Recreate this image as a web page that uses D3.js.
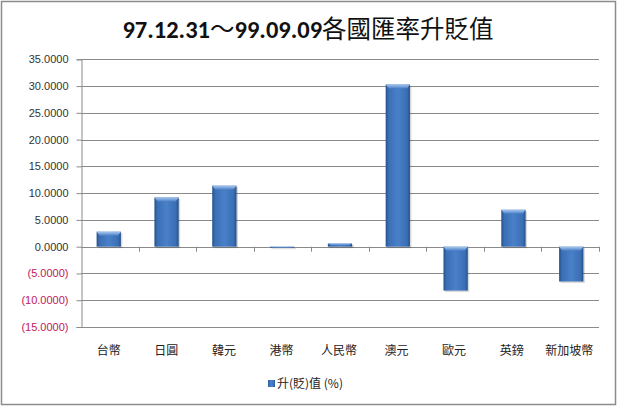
<!DOCTYPE html>
<html><head><meta charset="utf-8">
<script src="https://cdn.jsdelivr.net/npm/d3@7"></script>
<style>
html,body{margin:0;padding:0;background:#fff;}
svg{display:block;}
</style></head>
<body>
<script>
const categories = ["台幣","日圓","韓元","港幣","人民幣","澳元","歐元","英鎊","新加坡幣"];
const values = [2.8, 9.2, 11.4, -0.15, 0.6, 30.3, -8.2, 6.9, -6.5];
const yTicks = [35,30,25,20,15,10,5,0,-5,-10,-15];
const titleText = "97.12.31～99.09.09各國匯率升貶值";
const legendText = "升(貶)值  (%)";

(function(){
const W = 617, H = 406;
const svg = d3.select("body").append("svg").attr("width", W).attr("height", H);
const defs = svg.append("defs");
const g1 = defs.append("linearGradient").attr("id","barg").attr("x1","0").attr("x2","1").attr("y1","0").attr("y2","0");
g1.append("stop").attr("offset","0").attr("stop-color","#24508a");
g1.append("stop").attr("offset","0.12").attr("stop-color","#3a6fb5");
g1.append("stop").attr("offset","0.5").attr("stop-color","#4a80c8");
g1.append("stop").attr("offset","0.88").attr("stop-color","#3a6fb5");
g1.append("stop").attr("offset","1").attr("stop-color","#24508a");
const g2 = defs.append("linearGradient").attr("id","bevel").attr("x1","0").attr("x2","0").attr("y1","0").attr("y2","1");
g2.append("stop").attr("offset","0").attr("stop-color","#a9c8ee");
g2.append("stop").attr("offset","1").attr("stop-color","#4a80c8");

svg.append("rect").attr("x",1.5).attr("y",1.5).attr("width",W-3).attr("height",H-3)
  .attr("fill","#fff").attr("stroke","#8c8c8c").attr("stroke-width",1.5);

const pl = 81, pr = 599, pt = 59.3, pb = 327;
const y = d3.scaleLinear().domain([-15,35]).range([pb, pt]);
const x = d3.scaleBand().domain(categories).range([pl, pr]).paddingInner(0.58).paddingOuter(0.27);
const xb = d3.scaleBand().domain(categories).range([pl, pr]);

// gridlines
svg.append("g").selectAll("line").data(yTicks).join("line")
  .attr("x1", pl).attr("x2", pr)
  .attr("y1", d => Math.round(y(d))+0.5).attr("y2", d => Math.round(y(d))+0.5)
  .attr("stroke", "#8a8a8a").attr("stroke-width", 1);

// y axis
const yAxis = d3.axisLeft(y).tickValues(yTicks).tickSize(5).tickPadding(8)
  .tickFormat(d => d < 0 ? "(" + d3.format(".4f")(-d) + ")" : d3.format(".4f")(d));
const ya = svg.append("g").attr("transform", `translate(${pl+0.5},0)`).call(yAxis);
ya.select(".domain").attr("stroke","#8a8a8a");
ya.selectAll(".tick line").attr("stroke","#8a8a8a");
ya.selectAll(".tick text").attr("font-family","'Liberation Sans', Arial, sans-serif").attr("font-size","11px")
  .attr("fill", d => d < 0 ? "#c0185a" : "#333");

// x ticks on zero line
const bounds = categories.map(c => xb(c) + xb.bandwidth());
svg.append("g").selectAll("line").data(bounds).join("line")
  .attr("x1", d => Math.round(d)+0.5).attr("x2", d => Math.round(d)+0.5)
  .attr("y1", y(0)).attr("y2", y(0)+5).attr("stroke","#8a8a8a");

// bars
const bars = svg.append("g");
categories.forEach((c,i) => {
  const v = values[i];
  const bx = x(c), bw = x.bandwidth();
  const y0 = y(Math.max(0,v)), y1 = y(Math.min(0,v));
  const h = Math.max(1, y1 - y0);
  bars.append("rect").attr("x", bx+1.5).attr("y", y0+1.5).attr("width", bw).attr("height", h)
    .attr("fill", "#000").attr("opacity", 0.15);
  bars.append("rect").attr("x", bx).attr("y", y0).attr("width", bw).attr("height", h)
    .attr("fill", "url(#barg)");
  const bev = Math.min(4, h/2);
  bars.append("path")
    .attr("d", `M${bx},${y0} L${bx+bw},${y0} L${bx+bw-3},${y0+bev} L${bx+3},${y0+bev} Z`)
    .attr("fill", "url(#bevel)");
});

// x labels
svg.append("g").selectAll("text").data(categories).join("text")
  .attr("x", d => xb(d) + xb.bandwidth()/2 - 1).attr("y", 355)
  .attr("text-anchor","middle").attr("font-family","'Noto Sans CJK TC', sans-serif")
  .attr("font-size","12px").attr("fill","#222").text(d => d);

// title
svg.append("text").attr("x", 308).attr("y", 38).attr("text-anchor","middle")
  .attr("font-family","'Noto Sans CJK TC', sans-serif").attr("font-size","24.5px")
  .attr("fill","#111")
  .call(t => {
    t.append("tspan").attr("font-family","Carlito, 'Liberation Sans', sans-serif").attr("font-weight","bold").text("97.12.31");
    t.append("tspan").text("～");
    t.append("tspan").attr("font-family","Carlito, 'Liberation Sans', sans-serif").attr("font-weight","bold").text("99.09.09");
    t.append("tspan").text("各國匯率升貶值");
  });

// legend
svg.append("rect").attr("x", 268).attr("y", 380).attr("width", 7).attr("height", 7).attr("fill","url(#barg)");
svg.append("text").attr("x", 277).attr("y", 388).attr("font-family","'Noto Sans CJK TC', sans-serif")
  .attr("font-size","12px").attr("fill","#222").text(legendText);
})();
</script>
</body></html>
